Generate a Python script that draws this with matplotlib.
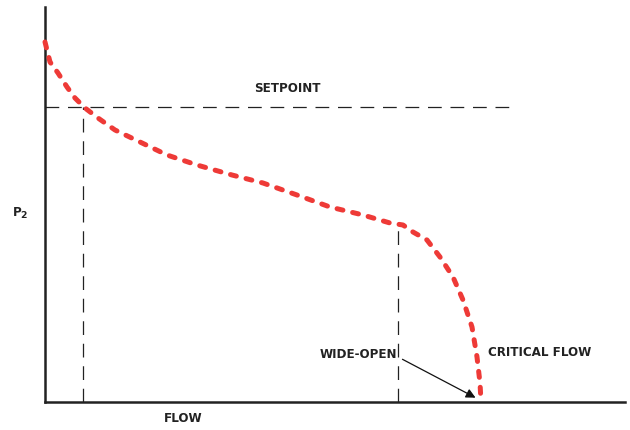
import matplotlib.pyplot as plt

# curve (flow, P2), arbitrary units
flow = [0, 5, 13, 22, 30, 40, 53, 70, 95, 122, 152, 187, 218, 252, 285, 318, 345,
        358, 368, 382, 395, 408, 418, 427, 432, 435, 436]
p2 = [360, 340, 329, 315, 304, 294, 284, 272, 260, 247, 237, 227, 219, 207, 195, 187,
      179, 177, 170, 162, 145, 125, 102, 75, 45, 19, 0]

setpoint = 295
setpoint_flow = 38
wideopen_flow = 353
wideopen_p2 = 176
critical_flow = 436

fig = plt.figure(figsize=(6.3, 4.3), dpi=100)
ax = fig.add_axes([45 / 630, 28 / 430, 580 / 630, 395 / 430])
ax.set_xlim(0, 580)
ax.set_ylim(0, 395)

for s in ['top', 'right']:
    ax.spines[s].set_visible(False)
for s in ['left', 'bottom']:
    ax.spines[s].set_linewidth(1.8)
    ax.spines[s].set_color('#222222')
ax.set_xticks([])
ax.set_yticks([])

dash_k = dict(color='#222222', lw=0.9, dashes=(11, 7))
ax.plot([0, 470], [setpoint, setpoint], **dash_k)
ax.plot([setpoint_flow, setpoint_flow], [0, setpoint], **dash_k)
ax.plot([wideopen_flow, wideopen_flow], [0, wideopen_p2], **dash_k)

ax.plot(flow, p2, color='#ee3a37', lw=3.6, dashes=(1.2, 2.0),
        dash_capstyle='round', solid_joinstyle='round', clip_on=False, zorder=5)

ax.annotate('', xy=(critical_flow - 3, 3), xytext=(355, 44),
            arrowprops=dict(arrowstyle='-|>', color='#111111', lw=0.9,
                            mutation_scale=14))

tk = dict(family='DejaVu Sans', fontstretch='condensed', fontweight='bold',
          fontsize=9.5, color='#222222')
ax.text(242, 314, 'SETPOINT', ha='center', va='center', **tk)
ax.text(313, 47, 'WIDE-OPEN', ha='center', va='center', **tk)
ax.text(495, 50, 'CRITICAL FLOW', ha='center', va='center', **tk)
ax.text(138, -16, 'FLOW', ha='center', va='center', **tk)
ax.text(-25, 189, 'P$_\\mathbf{2}$', ha='center', va='center', **tk)

fig.savefig('out.png', dpi=100)
